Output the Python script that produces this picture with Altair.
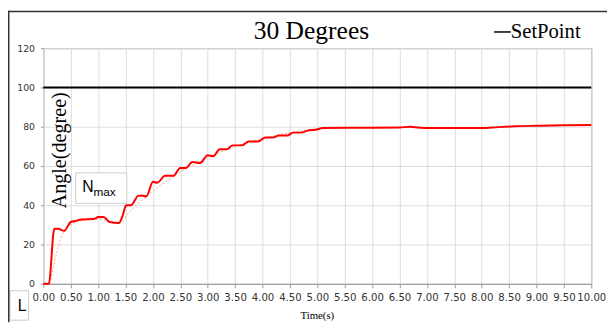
import altair as alt
import pandas as pd

# --- data ---
t_main = [0, 0.10, 0.20, 0.27, 0.38, 0.50, 0.58, 0.70, 0.92, 1.00, 1.10, 1.21, 1.38, 1.45, 1.51, 1.60,
          1.73, 1.80, 1.88, 2.00, 2.08, 2.22, 2.37, 2.50, 2.60, 2.72, 2.86, 3.00, 3.10, 3.22, 3.35,
          3.45, 3.62, 3.75, 3.92, 4.05, 4.18, 4.30, 4.45, 4.56, 4.70, 4.82, 4.97, 5.10, 5.50, 6.00,
          6.50, 6.70, 6.85, 7.00, 7.50, 8.00, 8.30, 8.60, 9.00, 9.50, 10.00]
v_main = [0, 0, 28, 28, 27, 31.5, 32, 32.8, 33, 34, 34, 31.5, 31, 35, 40, 40,
          44.8, 45, 44.5, 52, 51.5, 55, 55, 59, 59, 62, 61.5, 65.5, 65, 68.5, 68.5,
          70.5, 70.5, 72.5, 72.5, 74.5, 74.5, 75.5, 75.5, 77, 77, 78, 78.5, 79.3, 79.5, 79.5,
          79.6, 80, 79.6, 79.3, 79.3, 79.3, 79.8, 80.2, 80.5, 80.8, 80.9]

t_trend = [0.12, 0.38, 0.60, 1.00, 1.20, 1.40, 1.55, 1.90, 2.50, 3.00, 3.50, 4.00, 4.50, 5.00]
v_trend = [0, 27, 31.5, 33, 32, 31, 36, 45, 57, 64, 70, 74, 77, 79]

t_setpoint = [0, 10]
v_setpoint = [100, 100]

x_ticks = [0, 0.5, 1, 1.5, 2, 2.5, 3, 3.5, 4, 4.5, 5, 5.5, 6, 6.5, 7, 7.5, 8, 8.5, 9, 9.5, 10]
y_ticks = [0, 20, 40, 60, 80, 100, 120]

df_main = pd.DataFrame({"t": t_main, "v": v_main})
df_trend = pd.DataFrame({"t": t_trend, "v": v_trend})
df_set = pd.DataFrame({"t": t_setpoint, "v": v_setpoint})
dummy = pd.DataFrame({"a": [0]})

W, H = 558, 240

xs = alt.Scale(domain=[0, 10], nice=False, zero=False)
ys = alt.Scale(domain=[0, 120], nice=False)

x_axis = alt.Axis(values=x_ticks, format=".2f", title=None, grid=True, gridColor="#dcdcdc",
                  tickSize=4, tickColor="#999999", domainColor="#999999", labelFont="DejaVu Sans",
                  labelFontSize=10.3, labelColor="#333333", labelPadding=5, labelFlush=False,
                  labelOverlap=False)
y_axis = alt.Axis(values=y_ticks, title=None, grid=True, gridColor="#dcdcdc", tickSize=3,
                  tickColor="#999999", domain=False, labelFont="DejaVu Sans", labelFontSize=9.5,
                  labelColor="#333333", labelPadding=6, labelOverlap=False)

X = alt.X("t:Q", scale=xs, axis=x_axis)
Y = alt.Y("v:Q", scale=ys, axis=y_axis)

trend = alt.Chart(df_trend).mark_line(color="#f4a582", strokeWidth=1, strokeDash=[2, 2],
                                      interpolate="monotone").encode(x=X, y=Y)
main = alt.Chart(df_main).mark_line(color="#ff0000", strokeWidth=2,
                                    interpolate="monotone").encode(x=X, y=Y)
setp = alt.Chart(df_set).mark_line(color="#000000", strokeWidth=2).encode(x=X, y=Y)


def txt(text, x, y, size, font="Liberation Serif", align="left", angle=0, color="#000000"):
    kw = dict(text=text, font=font, fontSize=size, align=align, baseline="alphabetic", color=color)
    if angle:
        kw["angle"] = angle
    return alt.Chart(dummy).mark_text(**kw).encode(x=alt.value(x), y=alt.value(y))


def box(x1, x2, y1, y2, stroke="#cccccc"):
    return alt.Chart(dummy).mark_rect(fill="#ffffff", stroke=stroke, strokeWidth=1).encode(
        x=alt.value(x1), x2=alt.value(x2), y=alt.value(y1), y2=alt.value(y2))


def rule(x1, x2, y1, y2, color="#333333", width=1.5):
    return alt.Chart(dummy).mark_rule(color=color, strokeWidth=width).encode(
        x=alt.value(x1), x2=alt.value(x2), y=alt.value(y1), y2=alt.value(y2))


title = txt("30 Degrees", 273, -9.5, 26, align="center")
leg_line = rule(459, 476, -16.5, -16.5, color="#000000", width=1.5)
leg_text = txt("SetPoint", 476, -10, 21)
ylab = txt("Angle(degree)", 23.5, 104, 20.5, align="center", angle=270)
nbox = box(33, 85, 127, 158)
n_text = txt("N", 39.5, 146.5, 16, font="Liberation Sans")
max_text = txt("max", 51, 150.5, 12, font="Liberation Sans")
lbox = box(-34, -15, 247, 277)
l_text = txt("L", -26, 267.5, 16, font="Liberation Sans")
xlab = txt("Time(s)", 279, 276, 11, align="center")
frame_top = rule(-36, 580, -37.25, -37.25, color="#333333", width=1.5)
frame_left = rule(-35.25, -35.25, -38, 279, color="#333333", width=1.5)

chart = alt.layer(
    trend, main, setp, title, leg_line, leg_text, ylab, nbox, n_text, max_text,
    lbox, l_text, xlab, frame_top, frame_left
).properties(
    width=W, height=H,
    autosize=alt.AutoSizeParams(type="none"),
    padding={"left": 36, "top": 38, "right": 16, "bottom": 39},
    background="#ffffff",
).configure_view(stroke="#8c8c8c", strokeWidth=1)

chart.save("out.html", embed_options={"renderer": "svg", "actions": False})
